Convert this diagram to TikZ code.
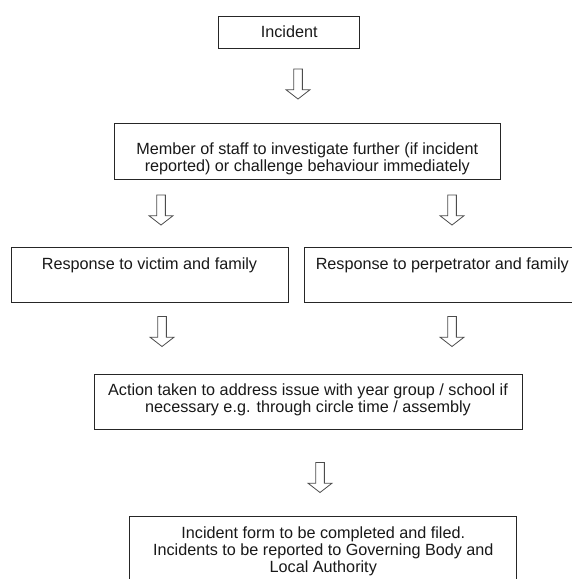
\documentclass[tikz,border=0pt]{standalone}
\usepackage{fontspec}
\setmainfont{Liberation Sans}
\begin{document}
\begin{tikzpicture}[x=1pt,y=-1pt,
  box/.style={draw=black!85, line width=0.9pt, rectangle, inner sep=0pt},
  txt/.style={font=\fontsize{16.2pt}{17pt}\selectfont, text=black!90, align=center, anchor=base, inner sep=0pt},
  arrowline/.style={draw=black!70, line width=0.8pt, fill=white, line join=miter},
  blockarrow/.pic={\draw[arrowline] (-4.35,0) -- (-4.35,20.7) -- (-12,20.7) -- (0,30) -- (12,20.7) -- (4.35,20.7) -- (4.35,0) -- cycle;}
]
\useasboundingbox (0,0) rectangle (572,579);
\fill[white] (0,0) rectangle (572,579);
\clip (0,0) rectangle (572,579);

% boxes
\node[box, minimum width=140.5pt, minimum height=32.3pt] (inc) at (288.7,32.2) {};
\node[box, minimum width=386pt, minimum height=55.7pt] (mem) at (307,151.2) {};
\node[box, minimum width=276.6pt, minimum height=55pt] (vic) at (150,275.2) {};
\node[box, minimum width=276.6pt, minimum height=55pt] (per) at (442.3,275.2) {};
\node[box, minimum width=428.3pt, minimum height=55pt] (act) at (308.2,401.5) {};
\node[box, minimum width=387.4pt, minimum height=80pt] (form) at (323,556.7) {};

% texts (base anchor = baseline of the last line)
\node[txt] (tinc) at (289.2,37.3) {Incident};
\node[txt] (tmem) at (307.3,171.6) {Member of staff to investigate further (if incident\\reported) or challenge behaviour immediately};
\node[txt] (tvic) at (149.5,269.3) {Response to victim and family};
\node[txt] (tper) at (442.3,269.3) {Response to perpetrator and family};
\node[txt] (tact) at (308,412.2) {Action taken to address issue with year group / school if\\necessary e.g. through circle time / assembly};
\node[txt] (tform) at (323.3,572.3) {Incident form to be completed and filed.\\Incidents to be reported to Governing Body and\\Local Authority};

% block arrows
\pic at (298,69) {blockarrow};
\pic at (161,195) {blockarrow};
\pic at (452,195) {blockarrow};
\pic at (162,316.5) {blockarrow};
\pic at (452,316.5) {blockarrow};
\pic at (320,462.5) {blockarrow};
\end{tikzpicture}
\end{document}
